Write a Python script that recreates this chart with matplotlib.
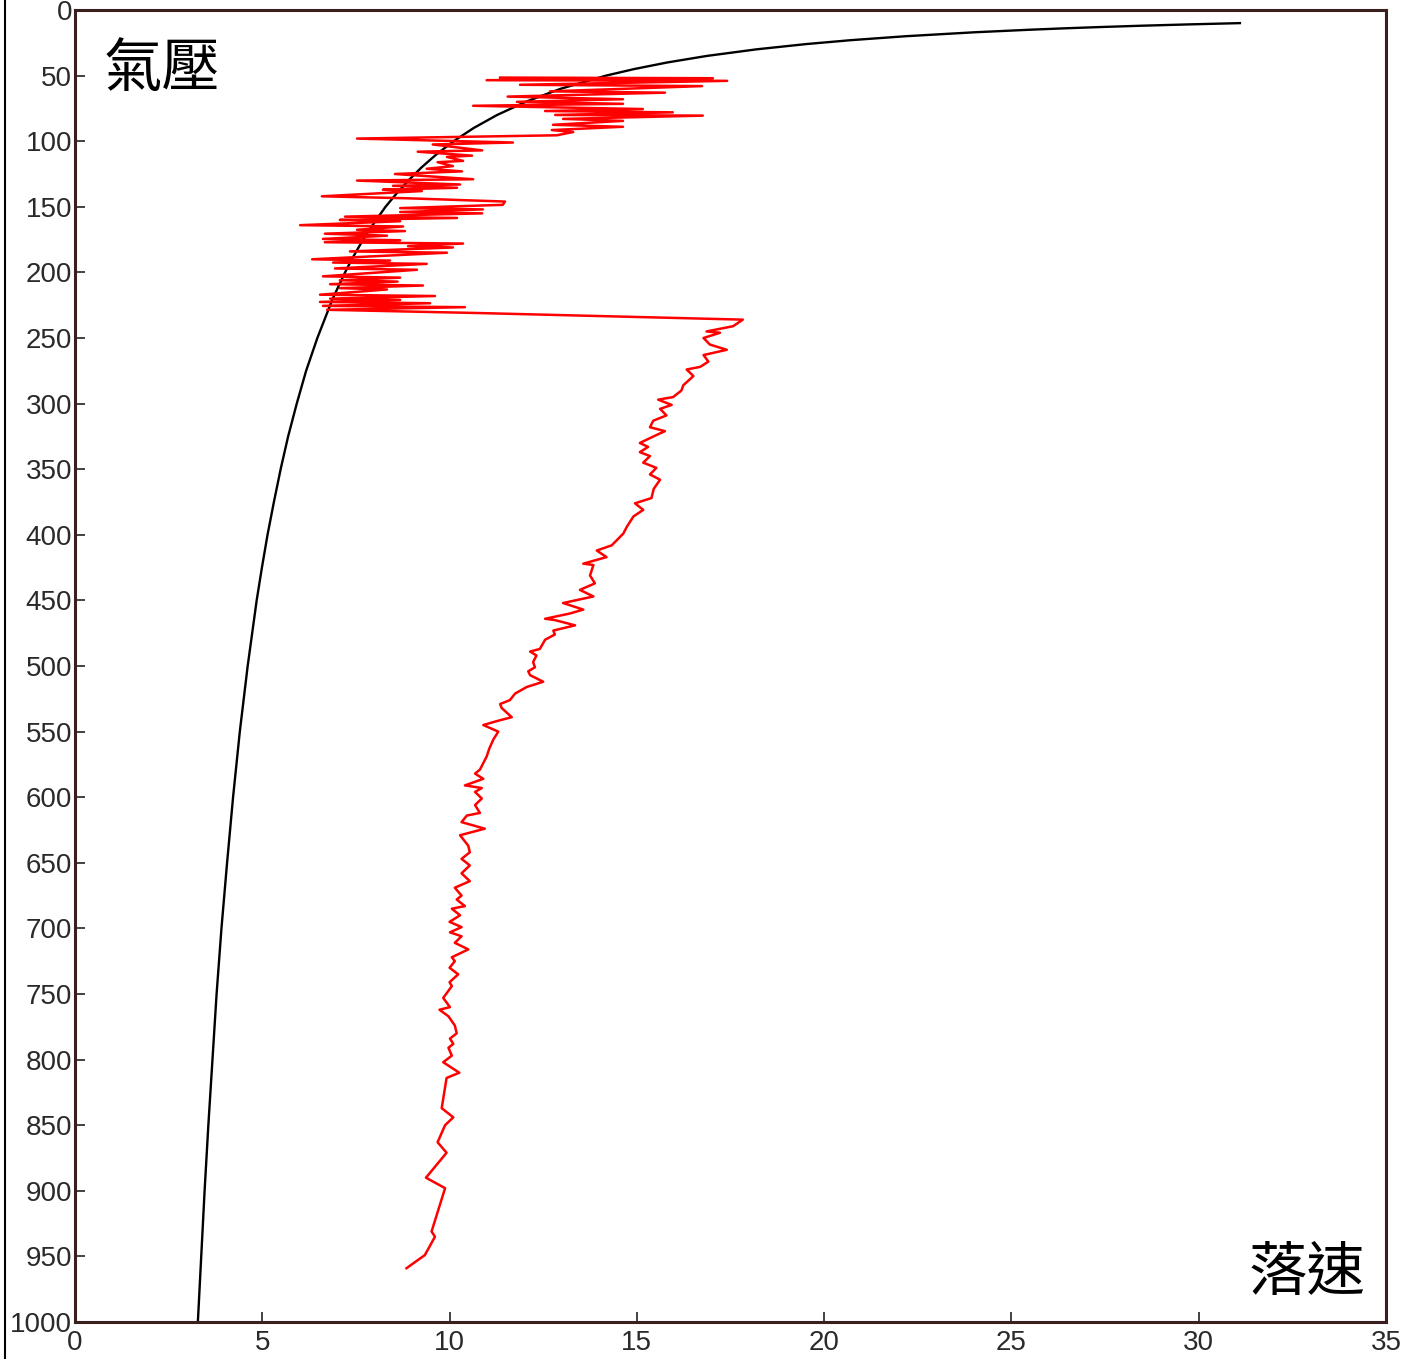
import matplotlib
matplotlib.use("Agg")
import matplotlib.pyplot as plt
from matplotlib.lines import Line2D

# ------------------------------------------
# data
# ------------------------------------------
# black curve: theoretical fall speed vs pressure
curve_p = [10, 11, 12, 13, 14, 15, 17, 20, 23, 26, 30, 35, 40, 45, 50, 60, 70, 80, 90,
           100, 110, 120, 130, 140, 150, 160, 170, 180, 190, 200, 220, 250, 275, 300, 325,
           350, 375, 400, 425, 450, 475, 500, 550, 600, 650, 700, 750, 800, 850, 900, 950, 1000]
curve_v = [31.1, 29.7, 28.45, 27.36, 26.39, 25.52, 24.0, 22.17, 20.71, 19.51, 18.19, 16.87,
           15.81, 14.93, 14.18, 12.97, 12.03, 11.27, 10.64, 10.11, 9.65, 9.25, 8.90, 8.58,
           8.29, 8.04, 7.80, 7.59, 7.39, 7.21, 6.88, 6.47, 6.17, 5.92, 5.69, 5.49, 5.31,
           5.14, 4.99, 4.85, 4.73, 4.61, 4.40, 4.22, 4.06, 3.91, 3.78, 3.67, 3.56, 3.46,
           3.37, 3.28]

# red line: measured fall speed (top of the sounding first)
meas_v = [11.35, 17.03, 10.99, 17.41, 11.88, 16.74, 12.68, 15.75, 11.55, 14.63, 11.80, 14.63,
          10.63, 15.16, 12.55, 15.96, 12.82, 16.76, 13.03, 14.63, 12.76, 14.63, 12.73, 13.30,
          12.86, 7.53, 11.69, 9.55, 10.87, 9.15, 10.60, 9.93, 10.36, 9.68, 10.09, 9.39,
          10.33, 8.54, 10.63, 7.53, 10.28, 8.49, 10.20, 8.22, 9.26, 6.59, 8.86, 11.48,
          11.42, 8.68, 10.89, 8.68, 10.87, 7.21, 10.20, 7.07, 8.68, 6.01, 8.76, 7.53,
          8.81, 6.67, 8.33, 6.62, 8.68, 6.67, 10.36, 8.89, 10.09, 7.34, 9.93, 6.33,
          8.41, 6.89, 9.39, 6.94, 9.13, 6.62, 8.68, 7.07, 8.61, 6.81, 9.29, 7.07,
          8.33, 6.54, 9.61, 6.81, 8.68, 6.54, 9.48, 6.62, 10.41, 6.73, 10.81, 17.83,
          17.57, 16.86, 17.22, 16.78, 16.95, 17.40, 16.78, 16.91, 16.69, 16.33, 16.51, 16.24,
          16.19, 15.97, 15.57, 15.93, 15.62, 15.79, 15.44, 15.35, 15.75, 15.52, 15.08, 15.30,
          15.08, 15.35, 15.17, 15.52, 15.35, 15.62, 15.45, 15.39, 14.95, 15.17, 14.91, 14.73,
          14.64, 14.33, 13.93, 14.19, 13.57, 13.84, 13.75, 13.88, 13.48, 13.84, 13.03, 13.57,
          13.21, 12.55, 12.81, 13.35, 12.77, 12.81, 12.55, 12.41, 12.15, 12.32, 12.23, 12.28,
          12.10, 12.15, 12.50, 12.06, 11.75, 11.61, 11.35, 11.39, 11.66, 11.26, 10.90, 11.30,
          11.17, 11.06, 10.99, 10.81, 10.68, 10.90, 10.41, 10.86, 10.68, 10.86, 10.68, 10.81,
          10.46, 10.32, 10.94, 10.28, 10.50, 10.54, 10.32, 10.54, 10.32, 10.54, 10.14, 10.32,
          10.19, 10.41, 10.06, 10.28, 10.00, 10.32, 10.01, 10.32, 10.14, 10.50, 10.06, 10.14,
          10.00, 10.23, 10.00, 10.06, 9.83, 10.01, 9.73, 9.97, 10.14, 10.19, 10.01, 10.10,
          9.97, 10.06, 9.83, 10.26, 9.92, 9.79, 10.10, 9.88, 9.68, 9.92, 9.37, 9.88,
          9.52, 9.61, 9.34, 8.85]
meas_p = [51.5, 52, 53.5, 54, 57, 58, 62, 63, 66, 68, 70, 71.5,
          73, 75.5, 77, 78, 80, 80.5, 83, 84.5, 87.5, 89, 91.5, 93,
          95.5, 98, 101, 102.5, 107, 108, 111, 112, 115, 116, 119, 121,
          123, 125, 129, 130, 133, 134, 135.5, 137, 138, 142, 143.5, 146,
          148.5, 151, 152, 154, 155, 157.5, 158.5, 160, 161, 164, 165, 167.5,
          168.5, 170.5, 172, 174.5, 175.5, 177, 178, 180, 181, 184, 185, 190,
          191, 192.5, 193.5, 197, 198, 203, 204, 206, 207, 209, 210, 212,
          213, 217, 218, 220, 221, 222.5, 223.5, 225.5, 226.5, 228.5, 231, 236,
          241, 245, 246, 250, 255, 259, 263, 268, 272, 274, 279, 286,
          290, 295, 297, 301, 304, 309, 313, 318, 321, 324, 330, 333,
          337, 340, 345, 349, 354, 358, 365, 372, 376, 381, 386, 394,
          399, 408, 412, 417, 422, 423, 431, 437, 442, 447, 452, 457,
          460, 464, 465, 469, 473, 476, 480, 487, 489, 492, 497, 501,
          504, 507, 512, 516, 521, 526, 529, 532, 539, 542, 545, 550,
          556, 563, 569, 579, 582, 586, 591, 593, 596, 601, 606, 612,
          614, 619, 624, 629, 637, 642, 647, 652, 658, 664, 669, 675,
          678, 683, 685, 690, 695, 699, 703, 706, 711, 716, 722, 725,
          730, 735, 741, 744, 753, 760, 762, 767, 774, 780, 784, 788,
          791, 797, 802, 810, 814, 837, 844, 850, 863, 871, 890, 898,
          931, 935, 949, 959]

x_ticks = list(range(0, 36, 5))
y_ticks = list(range(0, 1001, 50))

# ------------------------------------------
# figure
# ------------------------------------------
fig = plt.figure(figsize=(14.08, 13.59), dpi=100)
ax = fig.add_axes([75 / 1408, 1 - 1322 / 1359, (1386 - 75) / 1408, (1322 - 10) / 1359])

ax.plot(curve_v, curve_p, color="black", lw=1.7, solid_joinstyle="round")
ax.plot(meas_v, meas_p, color="#ff0000", lw=1.8, solid_joinstyle="round")

ax.set_xlim(0, 35)
ax.set_ylim(1000, 0)
ax.set_xticks(x_ticks)
ax.set_yticks(y_ticks)
ax.tick_params(direction="in", length=7, width=1.2, color="#222222",
               labelsize=20, labelcolor="#2a2a2a", pad=2)
ax.tick_params(axis="x", pad=6)
for lab in ax.get_xticklabels() + ax.get_yticklabels():
    lab.set_family("Liberation Sans")
for side in ax.spines.values():
    side.set_color("#3b1e1e")
    side.set_linewidth(2.2)

cjk = ["Noto Sans CJK TC", "DejaVu Sans"]
ax.text(0.022, 0.978, "氣壓", transform=ax.transAxes, ha="left", va="top",
        fontsize=42, family=cjk, color="black")
ax.text(0.984, 0.014, "落速", transform=ax.transAxes, ha="right", va="bottom",
        fontsize=42, family=cjk, color="black")

# thin frame edge of the neighbouring picture on the left
fig.add_artist(Line2D([5 / 1408, 5 / 1408], [0, 1], transform=fig.transFigure,
                      color="black", lw=1.5))

fig.savefig("out.png", dpi=100, facecolor="white")
